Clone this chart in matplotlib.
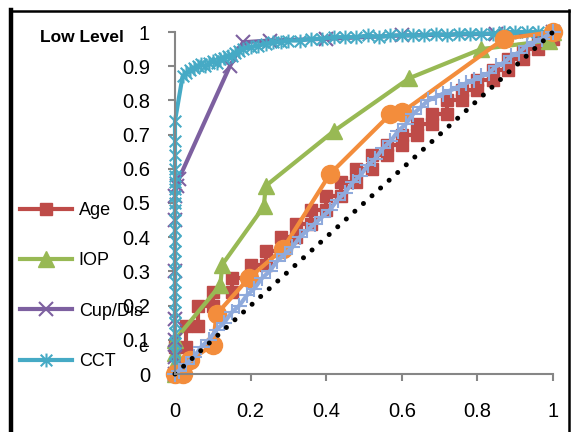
## ROC style curves, low level
import numpy as np
import matplotlib.pyplot as plt
from matplotlib.path import Path
from matplotlib.lines import Line2D

plt.rcParams['font.family'] = ['Liberation Sans', 'DejaVu Sans']

#data
age_x = [0, 0, 0.03, 0.03, 0.06, 0.06, 0.1, 0.1, 0.15, 0.15, 0.2, 0.2, 0.24, 0.24, 0.28, 0.28,
         0.32, 0.32, 0.36, 0.36, 0.4, 0.4, 0.44, 0.44, 0.48, 0.48, 0.52, 0.52, 0.56, 0.56,
         0.6, 0.6, 0.64, 0.64, 0.68, 0.68, 0.72, 0.72, 0.76, 0.76, 0.8, 0.8, 0.84, 0.84,
         0.88, 0.88, 0.92, 0.92, 0.96, 0.96, 1.0, 1.0]
age_y = [0, 0.08, 0.08, 0.14, 0.14, 0.2, 0.2, 0.24, 0.24, 0.28, 0.28, 0.32, 0.32, 0.36, 0.36, 0.4,
         0.4, 0.44, 0.44, 0.48, 0.48, 0.52, 0.52, 0.56, 0.56, 0.6, 0.6, 0.64, 0.64, 0.67,
         0.67, 0.7, 0.7, 0.73, 0.73, 0.76, 0.76, 0.8, 0.8, 0.83, 0.83, 0.86, 0.86, 0.89,
         0.89, 0.92, 0.92, 0.95, 0.95, 0.98, 0.98, 1.0]

iop_x = [0, 0, 0, 0, 0.12, 0.125, 0.235, 0.24, 0.42, 0.62, 0.81, 0.99, 1.0]
iop_y = [0, 0.03, 0.06, 0.1, 0.26, 0.32, 0.49, 0.55, 0.71, 0.865, 0.95, 0.975, 1.0]

cup_x = [0, 0, 0, 0, 0, 0, 0, 0.005, 0.01, 0.145, 0.18, 0.25, 0.4, 0.6, 0.85, 1.0]
cup_y = [0, 0.05, 0.1, 0.16, 0.3, 0.45, 0.52, 0.55, 0.57, 0.9, 0.97, 0.975, 0.98, 0.99, 0.995, 1.0]

cct_x = [0, 0, 0, 0, 0, 0, 0, 0, 0, 0, 0, 0, 0, 0, 0, 0, 0, 0, 0, 0, 0, 0, 0, 0, 0, 0,
         0.02, 0.03, 0.04, 0.05, 0.06, 0.07, 0.08, 0.09, 0.1, 0.11, 0.12, 0.13, 0.14, 0.15,
         0.16, 0.17, 0.18, 0.2, 0.22, 0.24, 0.26, 0.28, 0.3, 0.33, 0.36, 0.39, 0.42, 0.45,
         0.48, 0.51, 0.54, 0.57, 0.6, 0.63, 0.66, 0.69, 0.72, 0.75, 0.78, 0.81, 0.84, 0.87,
         0.9, 0.93, 0.96, 1.0]
cct_y = [0, 0.03, 0.06, 0.09, 0.12, 0.15, 0.18, 0.21, 0.24, 0.27, 0.3, 0.33, 0.36, 0.39,
         0.42, 0.45, 0.48, 0.5, 0.52, 0.54, 0.56, 0.58, 0.6, 0.64, 0.68, 0.74,
         0.87, 0.88, 0.89, 0.895, 0.9, 0.905, 0.9, 0.91, 0.915, 0.91, 0.92, 0.925, 0.93, 0.93,
         0.94, 0.945, 0.95, 0.955, 0.96, 0.965, 0.97, 0.97, 0.975, 0.975, 0.98, 0.98, 0.985, 0.985,
         0.985, 0.99, 0.985, 0.99, 0.99, 0.99, 0.99, 0.995, 0.99, 0.995, 0.995, 0.995, 0.995, 1.0,
         1.0, 1.0, 1.0, 1.0]

org_x = [0, 0.02, 0.04, 0.1, 0.11, 0.195, 0.285, 0.41, 0.57, 0.6, 0.87, 1.0]
org_y = [0, 0.0, 0.04, 0.085, 0.175, 0.28, 0.365, 0.585, 0.76, 0.765, 0.98, 1.0]

blu_x = [0, 0.01, 0.03, 0.05, 0.07, 0.09, 0.11, 0.13, 0.15, 0.17, 0.19, 0.21, 0.23, 0.25,
         0.27, 0.29, 0.31, 0.33, 0.35, 0.37, 0.39, 0.41, 0.43, 0.45, 0.47, 0.49, 0.51, 0.53,
         0.55, 0.57, 0.59, 0.61, 0.63, 0.65, 0.67, 0.69, 0.71, 0.73, 0.75, 0.77, 0.79, 0.81,
         0.83, 0.85, 0.87, 0.89, 0.91, 0.93, 0.95, 0.97, 1.0]
blu_y = [0, 0.01, 0.03, 0.05, 0.08, 0.1, 0.13, 0.15, 0.18, 0.2, 0.23, 0.25, 0.28, 0.3,
         0.33, 0.35, 0.37, 0.4, 0.42, 0.44, 0.46, 0.48, 0.51, 0.53, 0.56, 0.58, 0.61, 0.63,
         0.66, 0.68, 0.71, 0.73, 0.76, 0.78, 0.8, 0.81, 0.82, 0.83, 0.84, 0.85, 0.86, 0.87,
         0.88, 0.9, 0.91, 0.93, 0.94, 0.96, 0.97, 0.98, 1.0]

ref_x = [0, 1]
ref_y = [0, 1]

xticks = [0, 0.2, 0.4, 0.6, 0.8, 1]
xtick_labels = ['0', '0.2', '0.4', '0.6', '0.8', '1']
yticks = [0, 0.1, 0.2, 0.3, 0.4, 0.5, 0.6, 0.7, 0.8, 0.9, 1]
ytick_labels = ['0', '0.1', '0.2', '0.3', '0.4', '0.5', '0.6', '0.7', '0.8', '0.9', '1']

# excel style star marker (x with a vertical bar)
star = Path([(-1, -1), (1, 1), (-1, 1), (1, -1), (0, -1.2), (0, 1.2)],
            [Path.MOVETO, Path.LINETO, Path.MOVETO, Path.LINETO, Path.MOVETO, Path.LINETO])

W, H = 573, 432
fig = plt.figure(figsize=(W/100, H/100), dpi=100, facecolor='w')
ax = fig.add_axes([175/W, 1-374/H, 378/W, 342/H])

lw = 3.0
l_age, = ax.plot(age_x, age_y, color='#BE4B48', lw=lw, marker='s', ms=8, clip_on=False, label='Age')
l_iop, = ax.plot(iop_x, iop_y, color='#98B954', lw=lw, marker='^', ms=11, clip_on=False, label='IOP')
l_cup, = ax.plot(cup_x, cup_y, color='#7D60A0', lw=lw, marker='x', ms=10, mew=1.5, clip_on=False, label='Cup/Dis')
l_cct, = ax.plot(cct_x, cct_y, color='#46AAC5', lw=lw, marker=star, ms=10, mew=1.5, mfc='none',
                 clip_on=False, label='CCT')
ax.plot(org_x, org_y, color='#F38D3C', lw=lw, marker='o', ms=13, clip_on=False)
ax.plot(blu_x, blu_y, color='#8FAADC', lw=lw, marker='+', ms=12, mew=1.5, clip_on=False)
ax.plot(ref_x, ref_y, color='k', lw=3.6, linestyle=(0, (0.01, 2.3)), dash_capstyle='round', clip_on=False)

ax.set_xlim(0, 1)
ax.set_ylim(0, 1)
ax.set_xticks(xticks)
ax.set_xticklabels(xtick_labels)
ax.set_yticks(yticks)
ax.set_yticklabels(ytick_labels)
for s in ['top', 'right']:
    ax.spines[s].set_visible(False)
for s in ['left', 'bottom']:
    ax.spines[s].set_color('#868686')
    ax.spines[s].set_linewidth(1.5)
ax.tick_params(axis='x', direction='out', length=5, width=1.5, color='#868686', pad=15, labelsize=14.5)
ax.tick_params(axis='y', direction='out', length=5, width=1.5, color='#868686', pad=13, labelsize=14.5)
ax.patch.set_alpha(0)

fig.text(40/W, 1-38/H, 'Low Level', fontsize=12.5, fontweight='bold', va='center', ha='left')

leg = fig.legend(handles=[l_age, l_iop, l_cup, l_cct], loc='upper left',
                 bbox_to_anchor=(20/W, 1-202/H), frameon=False, fontsize=13,
                 handlelength=2.9, handletextpad=0.35, labelspacing=1.85,
                 borderpad=0, borderaxespad=0)
fig.text(143/W, 1-347/H, 'c', fontsize=13, va='center', ha='center')

# chart frame
fig.add_artist(Line2D([11/W, 11/W], [-0.01, 1-10/H], color='k', lw=3.2))
fig.add_artist(Line2D([10/W, 569/W], [1-11/H, 1-11/H], color='k', lw=1.8))
fig.add_artist(Line2D([569/W, 569/W], [-0.01, 1-10/H], color='k', lw=1.8))

plt.savefig('out.png', dpi=100)
